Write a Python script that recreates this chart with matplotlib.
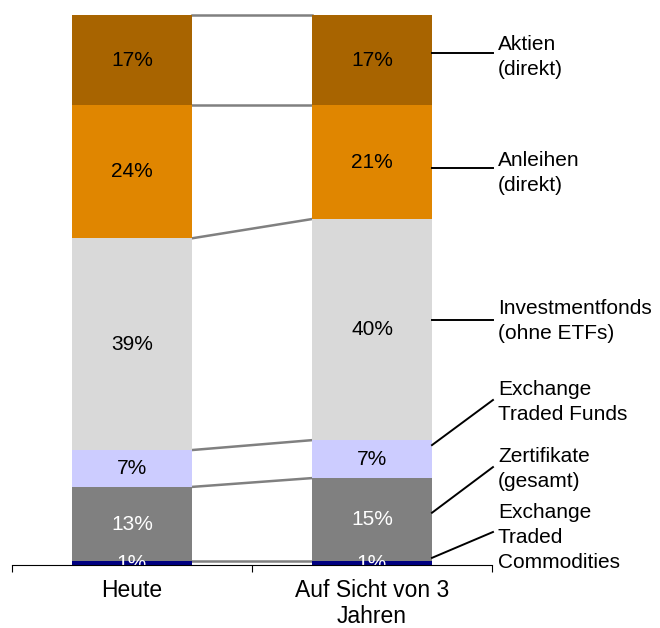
import numpy as np
import matplotlib
matplotlib.use("Agg")
import matplotlib.pyplot as plt

plt.rcParams["font.family"] = ["Liberation Sans", "DejaVu Sans"]

# Data (shares in %, bottom to top)
categories = ["Heute", "Auf Sicht von 3\nJahren"]
series = [
    "Exchange\nTraded\nCommodities",
    "Zertifikate\n(gesamt)",
    "Exchange\nTraded Funds",
    "Investmentfonds\n(ohne ETFs)",
    "Anleihen\n(direkt)",
    "Aktien\n(direkt)",
]
heute = [0.7, 13.5, 6.7, 38.5, 24.2, 16.4]
drei_jahre = [0.7, 15.1, 6.9, 40.2, 20.7, 16.4]
labels_heute = ["1%", "13%", "7%", "39%", "24%", "17%"]
labels_drei = ["1%", "15%", "7%", "40%", "21%", "17%"]

colors = ["#000080", "#808080", "#CCCCFF", "#D9D9D9", "#E08600", "#A86400"]
text_colors = ["white", "white", "black", "black", "black", "black"]

# label layout on the right (data y units)
legend_text_y = [5.0, 17.5, 29.6, 44.3, 71.3, 92.4]
legend_end_y = [6.0, 17.8, 30.0, 44.5, 72.2, 93.1]
legend_start_y = [1.3, 9.5, 21.8, 44.5, 72.2, 93.1]

fig = plt.figure(figsize=(6.6, 6.28), dpi=100)
ax = fig.add_axes([12 / 660, 1 - 565 / 628, 480 / 660, 550 / 628])

x = np.arange(len(categories))
width = 0.5
values = np.array([heute, drei_jahre])
bottoms = np.zeros(len(categories))
tops = []
for i in range(len(series)):
    ax.bar(x, values[:, i], width, bottom=bottoms, color=colors[i],
           edgecolor="none", zorder=2)
    for j, lab in enumerate([labels_heute[i], labels_drei[i]]):
        ax.text(x[j], bottoms[j] + values[j, i] / 2, lab, ha="center",
                va="center", fontsize=15, color=text_colors[i],
                clip_on=True, zorder=3)
    bottoms = bottoms + values[:, i]
    tops.append(bottoms.copy())

# series connector lines between the bars
for t in tops:
    ax.plot([x[0] + width / 2, x[1] - width / 2], [t[0], t[1]],
            color="#808080", lw=1.8, clip_on=False, zorder=1)

# labels on the right with leader lines
x_start = x[1] + width / 2
x_end = 1.504
for i, name in enumerate(series):
    ax.plot([x_start, x_end], [legend_start_y[i], legend_end_y[i]],
            color="black", lw=1.4, clip_on=False, zorder=4)
    ax.text(1.525, legend_text_y[i], name, ha="left", va="center",
            fontsize=15, linespacing=1.38, clip_on=False)

ax.set_xlim(-0.5, 1.5)
ax.set_ylim(0, 100)
ax.set_xticks(x)
ax.set_xticklabels(categories, fontsize=16.5, linespacing=1.2)
ax.set_xticks([-0.5, 0.5, 1.5], minor=True)
ax.tick_params(axis="x", which="major", length=0, pad=10)
ax.tick_params(axis="x", which="minor", length=5, width=0.8, direction="out")
ax.set_yticks([])
for s in ["left", "right", "top"]:
    ax.spines[s].set_visible(False)
ax.spines["bottom"].set_linewidth(0.8)
ax.spines["bottom"].set_zorder(5)

fig.savefig("out.png", dpi=100)
